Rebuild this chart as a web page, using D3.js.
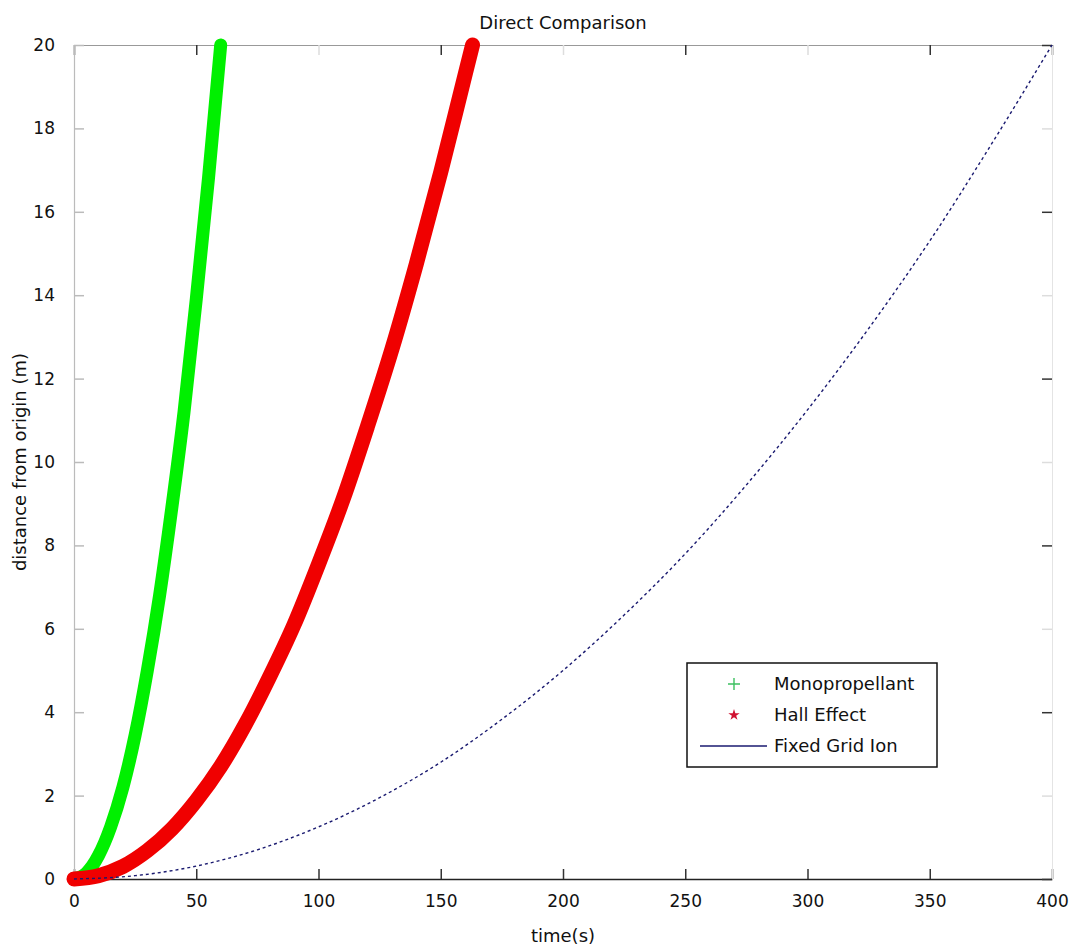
<!DOCTYPE html>
<html>
<head>
<meta charset="utf-8">
<script src="https://cdn.jsdelivr.net/npm/d3@7"></script>
<style>
  body { margin: 0; background: #fff; }
  svg text { font-family: "DejaVu Sans", sans-serif; fill: #111; }
</style>
</head>
<body>
<div class="chart"></div>
<script>
// values
const monoTime  = [0, 5, 10, 15, 20, 25, 30, 35, 40, 45, 50, 55, 60];
const monoDist  = [0, 0.14, 0.56, 1.25, 2.2, 3.45, 5.0, 6.8, 8.9, 11.2, 13.9, 16.8, 20];
const hallTime  = [0, 10, 20, 30, 40, 50, 60, 70, 80, 90, 100, 110, 120, 130, 140, 150, 160, 163];
const hallDist  = [0, 0.08, 0.3, 0.68, 1.2, 1.88, 2.7, 3.7, 4.85, 6.1, 7.55, 9.1, 10.85, 12.7, 14.75, 16.95, 19.3, 20];
const ionTime   = [0, 25, 50, 75, 100, 125, 150, 175, 200, 225, 250, 275, 300, 325, 350, 375, 400];
const ionDist   = [0, 0.08, 0.31, 0.7, 1.25, 1.95, 2.8, 3.83, 5.0, 6.33, 7.8, 9.45, 11.25, 13.2, 15.3, 17.6, 20];
const xTicks = [0, 50, 100, 150, 200, 250, 300, 350, 400];
const yTicks = [0, 2, 4, 6, 8, 10, 12, 14, 16, 18, 20];
const seriesNames = ["Monopropellant", "Hall Effect", "Fixed Grid Ion"];

const WIDTH = 1076, HEIGHT = 949;
const MARGINS = { top: 45, right: 24, bottom: 70, left: 74 };

const svg = d3.select(".chart").append("svg")
  .attr("width", WIDTH).attr("height", HEIGHT);

const x = d3.scaleLinear().domain([0, 400]).range([MARGINS.left, WIDTH - MARGINS.right]);
const y = d3.scaleLinear().domain([0, 20]).range([HEIGHT - MARGINS.bottom, MARGINS.top]);

const zip = (ts, ds) => ts.map((t, i) => ({ x: t, y: ds[i] }));
const line = d3.line().x(d => x(d.x)).y(d => y(d.y)).curve(d3.curveMonotoneX);

// box + inward ticks on all four sides
const axB = svg.append("g").attr("transform", `translate(0,${y(0)})`)
  .call(d3.axisBottom(x).tickValues(xTicks).tickSizeInner(-10).tickSizeOuter(0).tickPadding(16));
const axT = svg.append("g").attr("transform", `translate(0,${y(20)})`)
  .call(d3.axisTop(x).tickValues(xTicks).tickSizeInner(-10).tickSizeOuter(0).tickFormat(""));
const axL = svg.append("g").attr("transform", `translate(${x(0)},0)`)
  .call(d3.axisLeft(y).tickValues(yTicks).tickSizeInner(-10).tickSizeOuter(0).tickPadding(19));
const axR = svg.append("g").attr("transform", `translate(${x(400)},0)`)
  .call(d3.axisRight(y).tickValues(yTicks).tickSizeInner(-10).tickSizeOuter(0).tickFormat(""));

[axB, axT, axL, axR].forEach(g => {
  g.selectAll("text").style("font-size", "17px").style("font-family", "DejaVu Sans, sans-serif").attr("fill", "#111");
  g.selectAll(".tick line").attr("stroke", "#333").attr("stroke-width", 1.5);
});
axB.select(".domain").attr("stroke", "#222").attr("stroke-width", 1.6);
axT.select(".domain").attr("stroke", "#999").attr("stroke-width", 1.2);
axL.select(".domain").attr("stroke", "#bbb").attr("stroke-width", 1.2);
axR.select(".domain").attr("stroke", "#e4e4e4").attr("stroke-width", 1);
axT.selectAll(".tick line").filter(d => d % 100 === 0 && d !== 0 && d !== 400).attr("stroke", "#ddd");
axR.selectAll(".tick line").filter(d => d % 4 !== 0).attr("stroke", "#ddd");
axL.selectAll(".tick line").attr("stroke", "#bbb");
axB.selectAll(".tick text").attr("dy", "0.71em");

// series
svg.append("path").attr("d", line(zip(monoTime, monoDist)))
  .attr("fill", "none").attr("stroke", "#00f000").attr("stroke-width", 13)
  .attr("stroke-linecap", "round");
svg.append("path").attr("d", line(zip(hallTime, hallDist)))
  .attr("fill", "none").attr("stroke", "#f00000").attr("stroke-width", 15)
  .attr("stroke-linecap", "round");
svg.append("path").attr("d", line(zip(ionTime, ionDist)))
  .attr("fill", "none").attr("stroke", "#1a1a70").attr("stroke-width", 1.4)
  .attr("stroke-dasharray", "3,3");

// titles
svg.append("text").attr("x", (x(0) + x(400)) / 2).attr("y", 29)
  .attr("text-anchor", "middle").style("font-size", "18px").text("Direct Comparison");
svg.append("text").attr("x", (x(0) + x(400)) / 2).attr("y", 942)
  .attr("text-anchor", "middle").style("font-size", "18px").text("time(s)");
svg.append("text").attr("transform", `translate(26,${(y(0) + y(20)) / 2}) rotate(-90)`)
  .attr("text-anchor", "middle").style("font-size", "18px").text("distance from origin (m)");

// legend
const leg = svg.append("g").attr("transform", "translate(687,663)");
leg.append("rect").attr("width", 250).attr("height", 104)
  .attr("fill", "#fff").attr("stroke", "#111").attr("stroke-width", 1.5);
const rows = leg.selectAll(".row").data(seriesNames).enter().append("g")
  .attr("transform", (d, i) => `translate(0,${21 + i * 31})`);
rows.append("text").attr("x", 87).attr("dy", "0.35em").style("font-size", "18px").text(d => d);
leg.append("path").attr("d", "M41,21h12M47,15v12").attr("stroke", "#3cc060").attr("stroke-width", 1.4);
leg.append("path").attr("d", d3.symbol(d3.symbolAsterisk, 60)())
  .attr("transform", "translate(47,52)").attr("fill", "#c01030");
leg.append("path").attr("d", d3.symbol(d3.symbolStar, 40)())
  .attr("transform", "translate(47,52)").attr("fill", "#d01030");
leg.append("line").attr("x1", 13).attr("x2", 80).attr("y1", 83).attr("y2", 83)
  .attr("stroke", "#1a1a70").attr("stroke-width", 1.5);
</script>
</body>
</html>
